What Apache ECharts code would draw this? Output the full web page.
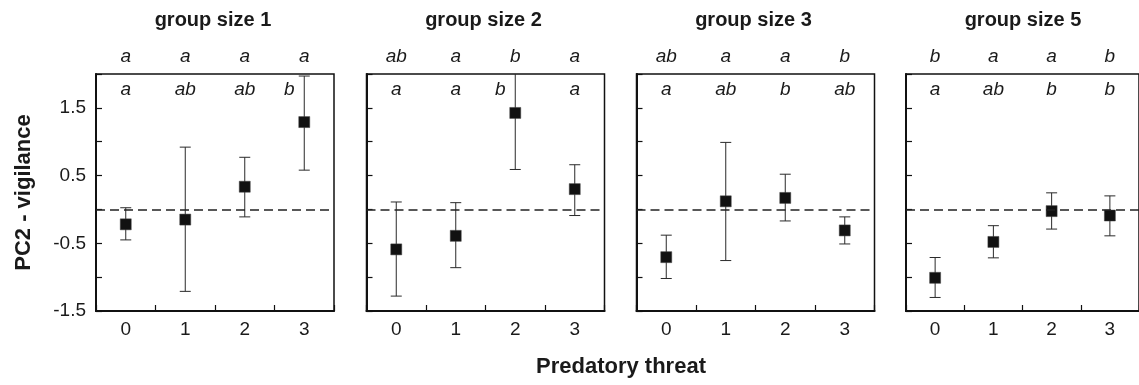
<!DOCTYPE html>
<html>
<head>
<meta charset="utf-8">
<script src="https://cdn.jsdelivr.net/npm/echarts@6/dist/echarts.min.js"></script>
<style>
    html, body {margin: 0; padding: 0; background: #fff;}
    #myChart {width: 1139px; height: 385px;}
</style>
</head>
<body>
<div id="myChart"></div>
<script>
//数据
var categories = ['0', '1', '2', '3'];
var groupTitles = ['group size 1', 'group size 2', 'group size 3', 'group size 5'];
var yTickLabels = ['-1.5', '-0.5', '0.5', '1.5'];

var g1Mean = [-0.22, -0.15, 0.335, 1.29];
var g1Low = [-0.45, -1.21, -0.11, 0.58];
var g1High = [0.025, 0.92, 0.77, 1.97];
var g1Top = ['a', 'a', 'a', 'a'];
var g1Bottom = ['a', 'ab', 'ab', 'b'];

var g2Mean = [-0.59, -0.39, 1.425, 0.30];
var g2Low = [-1.28, -0.86, 0.59, -0.09];
var g2High = [0.11, 0.10, 2.26, 0.66];
var g2Top = ['ab', 'a', 'b', 'a'];
var g2Bottom = ['a', 'a', 'b', 'a'];

var g3Mean = [-0.705, 0.12, 0.17, -0.31];
var g3Low = [-1.02, -0.755, -0.17, -0.51];
var g3High = [-0.38, 0.99, 0.52, -0.11];
var g3Top = ['ab', 'a', 'a', 'b'];
var g3Bottom = ['a', 'ab', 'b', 'ab'];

var g4Mean = [-1.01, -0.48, -0.025, -0.09];
var g4Low = [-1.30, -0.715, -0.29, -0.39];
var g4High = [-0.71, -0.24, 0.245, 0.20];
var g4Top = ['b', 'a', 'a', 'b'];
var g4Bottom = ['a', 'ab', 'b', 'b'];

var groups = [
    {mean: g1Mean, low: g1Low, high: g1High, top: g1Top, bottom: g1Bottom},
    {mean: g2Mean, low: g2Low, high: g2High, top: g2Top, bottom: g2Bottom},
    {mean: g3Mean, low: g3Low, high: g3High, top: g3Top, bottom: g3Bottom},
    {mean: g4Mean, low: g4Low, high: g4High, top: g4Top, bottom: g4Bottom}
];

//布局
var FONT = '"Liberation Sans", Arial, Helvetica, sans-serif';
var TEXT_COLOR = '#1a1a1a';
var panelLeft = [96, 366.5, 636.5, 906];
var panelWidth = 238;
var panelTop = 74;
var panelHeight = 237;

//误差线
function renderErrorBar(params, api) {
    var cs = params.coordSys;
    var x = api.coord([api.value(0), 0])[0];
    var yLow = api.coord([api.value(0), api.value(1)])[1];
    var yHigh = api.coord([api.value(0), api.value(2)])[1];
    var capW = 5.5;
    var children = [];
    var highClipped = yHigh < cs.y;
    var yTop = Math.max(yHigh, cs.y);
    var style = {stroke: '#2a2a2a', lineWidth: 1};
    children.push({type: 'line', shape: {x1: x, y1: yLow, x2: x, y2: yTop}, style: style});
    children.push({type: 'line', shape: {x1: x - capW, y1: yLow, x2: x + capW, y2: yLow}, style: style});
    if (!highClipped) {
        children.push({type: 'line', shape: {x1: x - capW, y1: yHigh, x2: x + capW, y2: yHigh}, style: style});
    }
    return {type: 'group', children: children};
}

//字母标注
function makeLetterRender(group) {
    return function (params, api) {
        var cs = params.coordSys;
        var i = params.dataIndex;
        var x = api.coord([api.value(0), 0])[0];
        //上端误差线伸入字母区时左移
        var shift = api.value(1) > 1.6 ? -15 : 0;
        var textStyle = function (t) {
            return {
                text: t, fill: TEXT_COLOR, fontSize: 19, fontStyle: 'italic',
                fontFamily: FONT, align: 'center', verticalAlign: 'middle'
            };
        };
        return {
            type: 'group',
            children: [
                {type: 'text', x: x, y: cs.y - 17, style: textStyle(group.top[i])},
                {type: 'text', x: x + shift, y: cs.y + 16, style: textStyle(group.bottom[i])}
            ]
        };
    };
}

var grids = [], xAxes = [], yAxes = [], series = [];
var titles = [];

for (var k = 0; k < groups.length; k++) {
    var g = groups[k];
    grids.push({
        left: panelLeft[k], top: panelTop, width: panelWidth, height: panelHeight,
        show: true, borderColor: '#111', borderWidth: 1.5, backgroundColor: 'transparent'
    });
    titles.push({
        text: groupTitles[k],
        left: panelLeft[k] + panelWidth / 2 - 2, top: 10, padding: 0,
        textAlign: 'center',
        textStyle: {fontSize: 20, fontWeight: 'bold', fontFamily: FONT, color: TEXT_COLOR}
    });
    xAxes.push({
        gridIndex: k, type: 'category', data: categories, boundaryGap: true,
        axisLine: {show: true, onZero: false, lineStyle: {color: '#111', width: 2}},
        axisTick: {show: true, interval: 0, inside: true, length: 6, lineStyle: {color: '#111', width: 1.2}},
        axisLabel: {fontSize: 19, fontFamily: FONT, color: TEXT_COLOR, margin: 9},
        splitLine: {show: false}
    });
    yAxes.push({
        gridIndex: k, type: 'value', min: -1.5, max: 2, interval: 0.5,
        name: k === 0 ? 'PC2 - vigilance' : '',
        nameLocation: 'middle', nameGap: 61, nameRotate: 90,
        nameTextStyle: {fontSize: 22, fontWeight: 'bold', fontFamily: FONT, color: TEXT_COLOR},
        axisLine: {show: true, onZero: false, lineStyle: {color: '#111', width: 2}},
        axisTick: {show: true, inside: true, length: 6, lineStyle: {color: '#111', width: 1.2}},
        axisLabel: {
            show: k === 0, fontSize: 19, fontFamily: FONT, color: TEXT_COLOR, margin: 10,
            formatter: function (value) {
                var s = String(value);
                return yTickLabels.indexOf(s) >= 0 ? s : '';
            }
        },
        splitLine: {show: false}
    });

    var barData = [], meanData = [], letterData = [];
    for (var i = 0; i < categories.length; i++) {
        barData.push([i, g.low[i], g.high[i]]);
        meanData.push([i, g.mean[i]]);
        letterData.push([i, g.high[i]]);
    }

    series.push({
        type: 'custom', xAxisIndex: k, yAxisIndex: k, silent: true,
        renderItem: renderErrorBar, data: barData, z: 3
    });
    series.push({
        type: 'scatter', xAxisIndex: k, yAxisIndex: k, silent: true,
        symbol: 'rect', symbolSize: 11, data: meanData, z: 4,
        itemStyle: {color: '#111', borderColor: '#444', borderWidth: 0.5, opacity: 1},
        markLine: {
            silent: true, symbol: 'none', label: {show: false},
            lineStyle: {type: [9, 5], color: '#222', width: 1.5},
            data: [{yAxis: 0}]
        }
    });
    series.push({
        type: 'custom', xAxisIndex: k, yAxisIndex: k, silent: true, clip: false,
        renderItem: makeLetterRender(g), data: letterData, z: 5
    });
}

titles.push({
    text: 'Predatory threat',
    left: 621, top: 356, padding: 0, textAlign: 'center',
    textStyle: {fontSize: 22, fontWeight: 'bold', fontFamily: FONT, color: TEXT_COLOR}
});

var myChart = echarts.init(document.getElementById('myChart'), null, {renderer: 'canvas'});
myChart.setOption({
    animation: false,
    backgroundColor: '#fff',
    title: titles,
    grid: grids,
    xAxis: xAxes,
    yAxis: yAxes,
    series: series
});
</script>
</body>
</html>
